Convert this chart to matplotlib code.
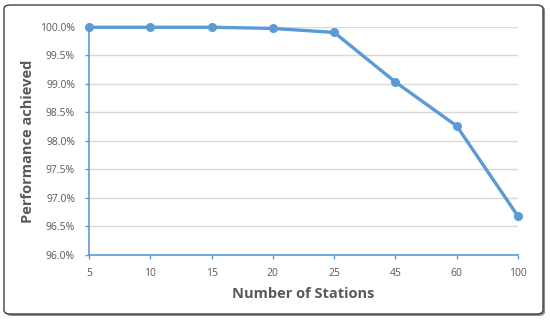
import matplotlib
matplotlib.use("Agg")
import matplotlib.pyplot as plt
from matplotlib.patches import FancyBboxPatch
from matplotlib.ticker import FuncFormatter, MultipleLocator

stations = ["5", "10", "15", "20", "25", "45", "60", "100"]
performance = [99.99, 99.99, 99.99, 99.97, 99.90, 99.03, 98.26, 96.68]

blue = "#5B9BD5"
text_grey = "#595959"
plt.rcParams["font.family"] = ["Open Sans", "DejaVu Sans"]

fig = plt.figure(figsize=(5.5, 3.2), dpi=100)
W, H = 550, 320

# rounded frame with a small drop shadow
shadow = FancyBboxPatch((6 / W, 4 / H), 539 / W, 310 / H,
                        boxstyle="round,pad=0,rounding_size=0.012",
                        transform=fig.transFigure, facecolor="#8c8c8c",
                        edgecolor="none", zorder=0)
frame = FancyBboxPatch((4 / W, 6 / H), 539 / W, 309 / H,
                       boxstyle="round,pad=0,rounding_size=0.012",
                       transform=fig.transFigure, facecolor="white",
                       edgecolor="#404040", linewidth=1.0, zorder=1)
fig.patches.extend([shadow, frame])

ax = fig.add_axes([89 / W, 1 - 255 / H, (518 - 89) / W, (255 - 26.7) / H])
ax.set_facecolor("none")
ax.set_zorder(2)

x = list(range(len(stations)))
ax.plot(x, performance, color=blue, linewidth=2.4, marker="o",
        markersize=5.5, clip_on=False, zorder=3)

ax.set_xlim(0, len(stations) - 1)
ax.set_xticks(x)
ax.set_xticklabels(stations)
ax.set_ylim(96.0, 100.0)
ax.yaxis.set_major_locator(MultipleLocator(0.5))
ax.yaxis.set_major_formatter(FuncFormatter(lambda v, _: f"{v:.1f}%"))
ax.grid(axis="y", color="#d9d9d9", linewidth=1.0)
ax.set_axisbelow(True)

for side in ("top", "right"):
    ax.spines[side].set_visible(False)
for side in ("left", "bottom"):
    ax.spines[side].set_color(blue)
    ax.spines[side].set_linewidth(1.2)

ax.tick_params(axis="both", direction="out", length=3, width=1.0,
               color=blue, labelcolor=text_grey, labelsize=7.5)
ax.tick_params(axis="x", pad=6)
ax.tick_params(axis="y", pad=7)

ax.set_xlabel("Number of Stations", fontsize=10.5, fontweight="bold",
              color=text_grey, labelpad=6)
ax.set_ylabel("Performance achieved", fontsize=10.5, fontweight="bold",
              color=text_grey, labelpad=4)

fig.savefig("out.png", dpi=100)
